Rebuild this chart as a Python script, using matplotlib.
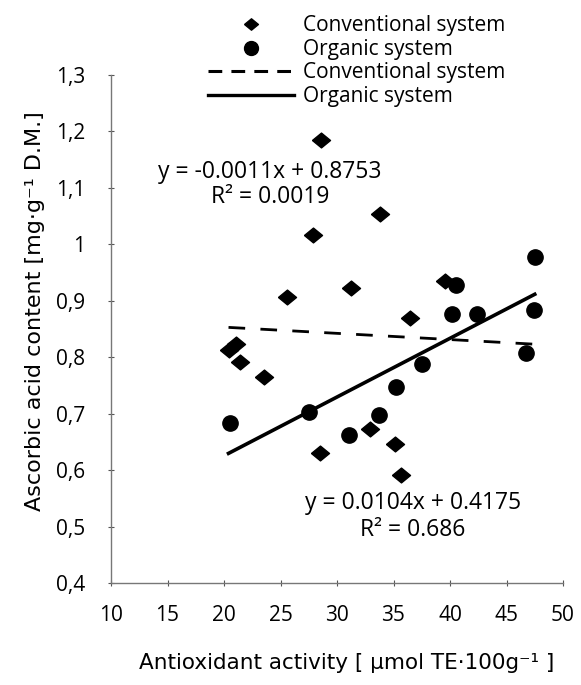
import matplotlib.pyplot as plt
import numpy as np
from matplotlib.lines import Line2D

# conventional system (diamonds)
conv_x = [28.6, 27.9, 33.8, 25.6, 31.2, 39.6, 36.5, 20.4, 21.1, 21.4, 23.5, 28.5, 32.9, 35.1, 35.7]
conv_y = [1.185, 1.016, 1.053, 0.906, 0.923, 0.935, 0.870, 0.813, 0.824, 0.791, 0.765, 0.631, 0.672, 0.647, 0.592]

# organic system (circles)
org_x = [20.5, 27.5, 31.1, 33.7, 35.2, 37.5, 46.7, 40.5, 47.5, 40.2, 42.4, 47.4]
org_y = [0.684, 0.703, 0.662, 0.697, 0.747, 0.788, 0.808, 0.928, 0.977, 0.877, 0.877, 0.883]

# trend lines
conv_fit = (-0.0011, 0.8753)
org_fit = (0.0104, 0.4175)
fit_range = (20.4, 47.5)

x_ticks = [10, 15, 20, 25, 30, 35, 40, 45, 50]
y_ticks = [0.4, 0.5, 0.6, 0.7, 0.8, 0.9, 1.0, 1.1, 1.2, 1.3]
y_tick_labels = ['0,4', '0,5', '0,6', '0,7', '0,8', '0,9', '1', '1,1', '1,2', '1,3']

font_main = 'Open Sans'
font_label = 'DejaVu Sans'

# flattened diamond like the scanned figure
diamond = [(-1, 0), (0, 0.82), (1, 0), (0, -0.82), (-1, 0)]

fig = plt.figure(figsize=(5.81, 6.85), dpi=100)
ax = fig.add_axes([111 / 581, 1 - 583 / 685, (563 - 111) / 581, (583 - 75) / 685])

ax.plot(conv_x, conv_y, ls='', marker=diamond, ms=13, color='black', mec='black')
ax.plot(org_x, org_y, ls='', marker='o', ms=11, color='black')

xx = np.array(fit_range)
ax.plot(xx, conv_fit[0] * xx + conv_fit[1], color='black', lw=2, dashes=(6, 5.5))
ax.plot(xx, org_fit[0] * xx + org_fit[1], color='black', lw=2.6)

ax.set_xlim(10, 50)
ax.set_ylim(0.4, 1.3)
ax.set_xticks(x_ticks)
ax.set_xticklabels([str(t) for t in x_ticks], fontfamily=font_main, fontsize=15)
ax.set_yticks(y_ticks)
ax.set_yticklabels(y_tick_labels, fontfamily=font_main, fontsize=15)
ax.tick_params(axis='both', direction='inout', length=5, width=0.8, color='#555555')
ax.tick_params(axis='x', pad=13)
ax.tick_params(axis='y', pad=16)

for side in ['top', 'right']:
    ax.spines[side].set_visible(False)
for side in ['left', 'bottom']:
    ax.spines[side].set_color('#777777')
    ax.spines[side].set_linewidth(1.0)

ax.set_xlabel('Antioxidant activity [ µmol TE·100g⁻¹ ]', fontfamily=font_label, fontsize=15.5)
ax.set_ylabel('Ascorbic acid content [mg·g⁻¹ D.M.]', fontfamily=font_label, fontsize=16)
ax.xaxis.set_label_coords(0.522, -0.138)
ax.yaxis.set_label_coords(-0.145, 0.535)

# equations
eq_kw = dict(transform=ax.transAxes, ha='center', va='center', fontfamily=font_main, fontsize=16.5)
ax.text(0.352, 0.809, 'y = -0.0011x + 0.8753', **eq_kw)
ax.text(0.352, 0.760, 'R² = 0.0019', **eq_kw)
ax.text(0.668, 0.157, 'y = 0.0104x + 0.4175', **eq_kw)
ax.text(0.668, 0.104, 'R² = 0.686', **eq_kw)

handles = [
    Line2D([], [], ls='', marker=diamond, ms=10, color='black'),
    Line2D([], [], ls='', marker='o', ms=10, color='black'),
    Line2D([], [], color='black', lw=2.2, dashes=(4.5, 3)),
    Line2D([], [], color='black', lw=2.4),
]
labels = ['Conventional system', 'Organic system', 'Conventional system', 'Organic system']
fig.legend(handles, labels, loc='upper left', bbox_to_anchor=(198 / 581, 1 - 5 / 685),
           frameon=False, borderpad=0, handlelength=4.1, handletextpad=0.45,
           labelspacing=0.12, prop={'family': font_main, 'size': 15})

fig.savefig('out.png', dpi=100)
